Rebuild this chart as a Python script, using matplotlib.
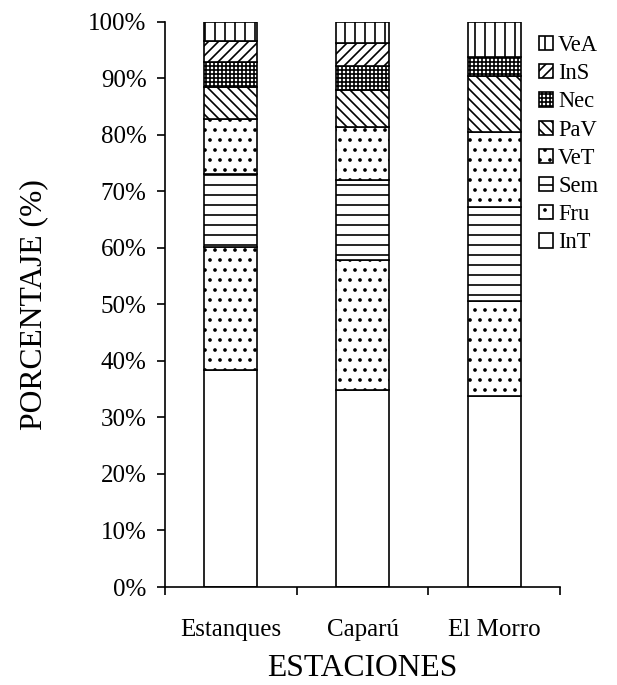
import matplotlib
matplotlib.use('Agg')
import matplotlib.pyplot as plt
import numpy as np

plt.rcParams['font.family'] = ['Liberation Serif', 'DejaVu Serif']
plt.rcParams['hatch.linewidth'] = 1.0

estaciones = ['Estanques', 'Caparú', 'El Morro']
categorias = ['InT', 'Fru', 'Sem', 'VeT', 'PaV', 'Nec', 'InS', 'VeA']
valores = {
    'InT': [38.4, 34.8, 33.8],
    'Fru': [21.7, 23.0, 16.8],
    'Sem': [13.0, 14.2, 16.6],
    'VeT': [9.7, 9.4, 13.2],
    'PaV': [5.6, 6.5, 10.0],
    'Nec': [4.5, 4.3, 3.4],
    'InS': [3.6, 4.0, 0.0],
    'VeA': [3.5, 3.8, 6.2],
}
hatches = {
    'InT': '', 'Fru': '..', 'Sem': '--', 'VeT': '..',
    'PaV': '\\\\\\\\', 'Nec': '+++++', 'InS': '////', 'VeA': '||',
}

DPI = 120
fig = plt.figure(figsize=(617 / DPI, 685 / DPI), dpi=DPI, facecolor='white')
ax = fig.add_axes([165 / 617, 98 / 685, 395 / 617, 565.3 / 685])

x = np.arange(len(estaciones))
bottom = np.zeros(len(estaciones))
handles = []
for cat in categorias:
    vals = np.array(valores[cat])
    b = ax.bar(x, vals, 0.40, bottom=bottom, color='white', edgecolor='black',
               linewidth=1.0, hatch=hatches[cat], label=cat)
    handles.append(b)
    bottom += vals

ax.set_xlim(-0.5, 2.5)
ax.set_ylim(0, 100)
ax.set_yticks(np.arange(0, 101, 10))
ax.set_yticklabels([f'{v}%' for v in range(0, 101, 10)])
ax.set_xticks([-0.5, 0.5, 1.5, 2.5])
ax.set_xticklabels([])
ax.set_xticks(x, minor=True)
ax.set_xticklabels(estaciones, minor=True)
ax.tick_params(axis='x', which='major', direction='out', length=5, width=1.0)
ax.tick_params(axis='x', which='minor', length=0, pad=19, labelsize=15)
ax.tick_params(axis='y', direction='out', length=5, width=1.0, pad=6, labelsize=15)

for s in ['top', 'right']:
    ax.spines[s].set_visible(False)
for s in ['left', 'bottom']:
    ax.spines[s].set_linewidth(1.0)

ax.set_xlabel('ESTACIONES', fontsize=19, labelpad=8)
ax.set_ylabel('PORCENTAJE (%)', fontsize=19, labelpad=24)

fig.legend(handles[::-1], categorias[::-1], loc='upper left',
           bbox_to_anchor=(539 / 617, 1 - 35 / 685), frameon=False,
           fontsize=13.5, handlelength=0.6, handleheight=0.6,
           handletextpad=0.25, labelspacing=0.32, borderpad=0, borderaxespad=0)

fig.savefig('out.png', dpi=DPI, facecolor='white')
